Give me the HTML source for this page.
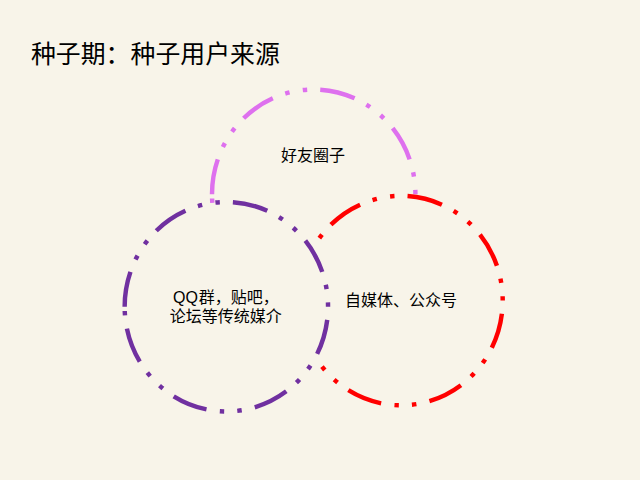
<!DOCTYPE html>
<html lang="zh-CN">
<head>
<meta charset="utf-8">
<title>种子期：种子用户来源</title>
<style>
html,body{margin:0;padding:0;background:#F8F4E9;}
body{width:640px;height:480px;overflow:hidden;position:relative;font-family:"Liberation Sans",sans-serif;}
#slide{position:absolute;left:0;top:0;width:640px;height:480px;background:#F8F4E9;overflow:hidden;}
#slide svg{position:absolute;left:0;top:0;display:block;}
.t{position:absolute;margin:0;white-space:nowrap;color:transparent;overflow:hidden;font-family:"Liberation Sans",sans-serif;}
</style>
</head>
<body>
<div id="slide">
<svg width="640" height="480" viewBox="0 0 640 480" role="img" aria-label="种子期：种子用户来源 — 好友圈子；QQ群，贴吧，论坛等传统媒介；自媒体、公众号">
<rect width="640" height="480" fill="#F8F4E9"/>
<g fill="none" stroke-linecap="butt">
<path d="M212 194.2 A101.7 104.75 0 0 1 313.7 89.45 A101.7 104.75 0 0 1 415.4 194.2 A101.7 104.75 0 0 1 313.7 298.95 A101.7 104.75 0 0 1 212 194.2 Z" fill="#F8F4E9" stroke="#DE70EE" stroke-width="4.444" stroke-dasharray="35.496 13.311 4.437 13.311 4.437 13.311" stroke-dashoffset="0"/>
<path d="M299.3 300.6 A101.7 104.75 0 0 1 401 195.85 A101.7 104.75 0 0 1 502.7 300.6 A101.7 104.75 0 0 1 401 405.35 A101.7 104.75 0 0 1 299.3 300.6 Z" fill="#F8F4E9" stroke="#FF0000" stroke-width="4.444" stroke-dasharray="35.496 13.311 4.437 13.311 4.437 13.311" stroke-dashoffset="0"/>
<path d="M124.65 306.7 A101.7 104.75 0 0 1 226.35 201.95 A101.7 104.75 0 0 1 328.05 306.7 A101.7 104.75 0 0 1 226.35 411.45 A101.7 104.75 0 0 1 124.65 306.7 Z" fill="#F8F4E9" stroke="#7030A0" stroke-width="4.444" stroke-dasharray="35.496 13.311 4.437 13.311 4.437 13.311" stroke-dashoffset="0"/>
</g>
<text x="30.9 55.8 80.7 105.6 130.5 155.4 180.3 205.2 230.1 255" y="63.2" font-size="24.89" fill="#000" font-family="&quot;Liberation Sans&quot;, &quot;Noto Sans CJK SC&quot;, sans-serif">种子期：种子用户来源</text>
<text x="280.9" y="160.6" font-size="16" fill="#000" font-family="&quot;Liberation Sans&quot;, &quot;Noto Sans CJK SC&quot;, sans-serif">好友圈子</text>
<text x="173 185.4 198.8 214.8 230.8 246.8 262.8" y="303.2" font-size="16" fill="#000" font-family="&quot;Liberation Sans&quot;, &quot;Noto Sans CJK SC&quot;, sans-serif">QQ群，贴吧，</text>
<text x="169.8" y="321.7" font-size="16" fill="#000" font-family="&quot;Liberation Sans&quot;, &quot;Noto Sans CJK SC&quot;, sans-serif">论坛等传统媒介</text>
<text x="345" y="306.1" font-size="16" fill="#000" font-family="&quot;Liberation Sans&quot;, &quot;Noto Sans CJK SC&quot;, sans-serif">自媒体、公众号</text>
</svg>
<div class="t" style="left:31px;top:39.555px;width:250.9px;font-size:24.89px;line-height:29.868px">种子期：种子用户来源</div>
<div class="t" style="left:281.4px;top:145.3px;width:66px;font-size:16px;line-height:19.2px">好友圈子</div>
<div class="t" style="left:174.355px;top:288px;width:106.891px;font-size:16px;line-height:19.2px">QQ群，贴吧，</div>
<div class="t" style="left:170.2px;top:306.5px;width:114px;font-size:16px;line-height:19.2px">论坛等传统媒介</div>
<div class="t" style="left:345.5px;top:290.8px;width:114px;font-size:16px;line-height:19.2px">自媒体、公众号</div>
</div>
</body>
</html>
